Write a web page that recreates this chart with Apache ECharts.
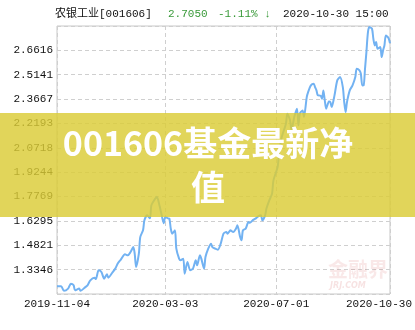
<!DOCTYPE html>
<html>
<head>
<meta charset="utf-8">
<script src="https://cdn.jsdelivr.net/npm/echarts@6/dist/echarts.min.js"></script>
<style>
  html, body { margin: 0; padding: 0; background: #fff; }
  #chart { width: 415px; height: 330px; }
</style>
</head>
<body>
<div id="chart"></div>
<script>
// trading-day index (0 = 2019-11-04) and net value
const days = [0, 3, 5, 8, 10, 12, 13, 16, 17, 20, 22, 24, 27, 28, 30, 32, 34, 36, 37, 40,
  42, 44, 46, 49, 51, 53, 55, 56, 57, 59, 60, 62, 63, 65, 67, 68, 70, 72, 74, 75,
  77, 78, 80, 81, 82, 83, 85, 86, 88, 89, 91, 92, 94, 96, 98, 100, 101, 103, 104, 106,
  107, 109, 111, 112, 114, 116, 118, 120, 122, 123, 125, 127, 129, 130, 132, 133, 134, 136, 138, 139,
  141, 143, 145, 147, 148, 150, 151, 153, 155, 156, 159, 160, 162, 165, 166, 168, 169, 171, 173, 174,
  175, 177, 178, 180, 181, 183, 185, 186, 187, 188, 190, 191, 192, 193, 194, 196, 197, 198, 200, 202,
  204, 206, 207, 208, 209, 211, 213, 215, 216, 218, 219, 220, 221, 222, 223, 224, 225, 227, 228, 229,
  230, 231, 233, 234, 235, 236, 237, 239, 240]
const navs = [1.2336, 1.2336, 1.2064, 1.2197, 1.2499, 1.2396, 1.2094, 1.2197, 1.2064, 1.2257,
  1.2396, 1.2699, 1.2862, 1.2777, 1.3304, 1.3201, 1.2802, 1.3062, 1.2862, 1.3183,
  1.3407, 1.3745, 1.3951, 1.4272, 1.4211, 1.4411, 1.4713, 1.4314, 1.3503, 1.4314,
  1.5318, 1.5724, 1.6329, 1.6631, 1.6450, 1.7236, 1.7539, 1.7751, 1.7176, 1.6813,
  1.6147, 1.6528, 1.6450, 1.6432, 1.5827, 1.5524, 1.5724, 1.4617, 1.4012, 1.3909,
  1.4012, 1.3104, 1.3806, 1.3304, 1.3407, 1.3909, 1.3606, 1.4211, 1.4012, 1.3407,
  1.4108, 1.4617, 1.4919, 1.4713, 1.4617, 1.4556, 1.4919, 1.5524, 1.5621, 1.5524,
  1.5724, 1.5621, 1.5827, 1.6026, 1.5318, 1.5119, 1.5724, 1.5827, 1.6226, 1.6180,
  1.6329, 1.6432, 1.6571, 1.6631, 1.6329, 1.6631, 1.7055, 1.7539, 1.7944, 1.8749,
  1.9553, 2.0364, 2.1368, 2.2179, 2.2784, 2.2379, 2.1774, 2.2578, 2.3087, 2.2076,
  2.2784, 2.2984, 2.2578, 2.3788, 2.4091, 2.4496, 2.4599, 2.4393, 2.4194, 2.3891,
  2.3870, 2.3692, 2.4194, 2.3589, 2.3087, 2.3528, 2.3486, 2.3183, 2.3891, 2.4799,
  2.4998, 2.4393, 2.3486, 2.2881, 2.3486, 2.4194, 2.4496, 2.4998, 2.5507, 2.5404,
  2.5204, 2.4496, 2.4500, 2.5507, 2.6511, 2.7624, 2.8023, 2.7927, 2.7322, 2.6916,
  2.7116, 2.6717, 2.6813, 2.6208, 2.6614, 2.6916, 2.7521, 2.7354, 2.7050]

const xTickDays = [0, 78, 158, 240]
const xTickLabels = ['2019-11-04', '2020-03-03', '2020-07-01', '2020-10-30']
const yMin = 1.187156
const yStep = 0.147444
const yTickLabels = ['1.3346', '1.4821', '1.6295', '1.7769', '1.9244', '2.0718', '2.2193', '2.3667', '2.5141', '2.6616']

const fundName = '农银工业[001606]'
const lastNav = '2.7050'
const lastChange = '-1.11% ↓'
const lastTime = '2020-10-30 15:00'
const bannerText = '001606基金最新净\n值'

const mono = '"Liberation Mono", "DejaVu Sans Mono", "Noto Sans CJK SC", monospace'
const chart = echarts.init(document.getElementById('chart'))

chart.setOption({
  animation: false,
  backgroundColor: '#fff',
  grid: {
    left: 57, right: 22, top: 26, bottom: 36,
    show: true, borderColor: '#c8c8c8', borderWidth: 1
  },
  xAxis: {
    type: 'value',
    min: 0,
    max: 240,
    axisLine: { show: false },
    axisTick: { show: false, customValues: xTickDays },
    splitLine: { show: true, lineStyle: { color: '#cfcfcf', type: [4, 3] } },
    axisLabel: {
      customValues: xTickDays,
      margin: 5,
      color: '#111',
      fontFamily: mono,
      fontSize: 11,
      formatter: (v) => {
        const i = xTickDays.indexOf(v)
        if (i < 0) return ''
        return i === xTickDays.length - 1 ? `{last|${xTickLabels[i]}}` : xTickLabels[i]
      },
      rich: { last: { padding: [0, 22, 0, 0], fontFamily: mono, fontSize: 11, color: '#111' } }
    }
  },
  yAxis: {
    type: 'value',
    min: yMin,
    max: yMin + 11 * yStep,
    interval: yStep,
    axisLine: { show: false },
    axisTick: { show: false },
    splitLine: { lineStyle: { color: '#cfcfcf', type: [4, 3] } },
    axisLabel: {
      margin: 4,
      color: '#111',
      fontFamily: mono,
      fontSize: 11,
      showMinLabel: false,
      showMaxLabel: false,
      formatter: (v) => yTickLabels[Math.round((v - yMin) / yStep) - 1] || ''
    }
  },
  series: [{
    type: 'line',
    data: days.map((d, i) => [d, navs[i]]),
    showSymbol: false,
    smooth: 0.25,
    lineStyle: { width: 2, color: '#72b2f2' },
    z: 2
  }],
  graphic: [
    { type: 'text', left: 55, top: 9, style: { text: fundName, font: `11px ${mono}`, fill: '#111' } },
    { type: 'text', left: 168, top: 9, style: { text: lastNav, font: `11px ${mono}`, fill: '#3a9a3a' } },
    { type: 'text', left: 218, top: 9, style: { text: lastChange, font: `11px ${mono}`, fill: '#3a9a3a' } },
    { type: 'text', left: 283, top: 9, style: { text: lastTime, font: `11px ${mono}`, fill: '#111' } },
    // watermark
    { type: 'text', left: 328, top: 259, z: 5, style: { text: '金融界', font: 'bold 20px "Noto Sans CJK SC"', fill: 'rgba(215,110,110,0.16)' } },
    { type: 'text', left: 330, top: 282, z: 5, style: { text: 'JRJ.COM', font: 'italic bold 8px "DejaVu Sans"', fill: 'rgba(215,110,110,0.2)' } },
    // yellow banner over the chart
    {
      type: 'rect', z: 100,
      shape: { x: 0, y: 113, width: 415, height: 104 },
      style: { fill: 'rgba(218,204,54,0.82)' }
    },
    {
      type: 'text', z: 101, x: 208, y: 121,
      style: {
        text: bannerText,
        align: 'center',
        verticalAlign: 'top',
        font: 'bold 34px "Noto Sans CJK SC"',
        lineHeight: 44,
        fill: '#fff'
      }
    }
  ]
})
</script>
</body>
</html>
